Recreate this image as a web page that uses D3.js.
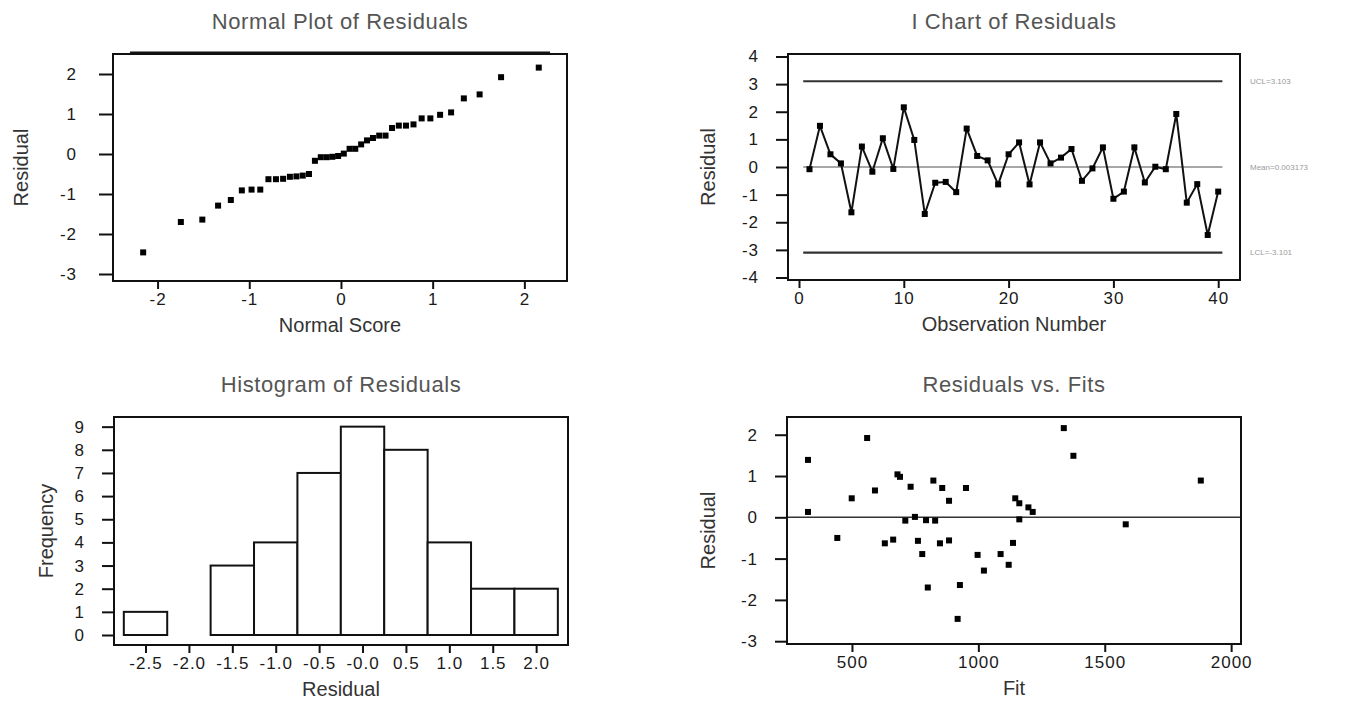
<!DOCTYPE html>
<html><head><meta charset="utf-8">
<script src="https://cdn.jsdelivr.net/npm/d3@7"></script>
<style>
body{margin:0;background:#fff;}
text{font-family:"Liberation Sans",Arial,sans-serif;}
</style></head><body>
<svg id="c" width="1359" height="702"></svg>
<script>
// ---- data ----
const observations = d3.range(1, 41);
const residuals = [-0.08, 1.49, 0.46, 0.13, -1.64, 0.74, -0.17, 1.04, -0.07, 2.16,
                   0.98, -1.70, -0.57, -0.54, -0.91, 1.39, 0.40, 0.24, -0.63, 0.46,
                   0.89, -0.63, 0.89, 0.13, 0.34, 0.65, -0.50, -0.05, 0.71, -1.15,
                   -0.89, 0.71, -0.56, 0.01, -0.08, 1.92, -1.29, -0.62, -2.46, -0.89];
const fits = [711, 1376, 499, 326, 927, 732, 1583, 680, 793, 1338,
              690, 800, 761, 663, 997, 326, 884, 1198, 630, 1146,
              822, 848, 1880, 1215, 1162, 591, 442, 1162, 857, 1120,
              1088, 951, 884, 749, 829, 560, 1022, 1137, 918, 778];
const normalScores = [-2.157, -1.746, -1.512, -1.340, -1.201, -1.081, -0.975, -0.880, -0.791, -0.709,
                      -0.631, -0.557, -0.486, -0.417, -0.349, -0.284, -0.220, -0.156, -0.094, -0.031,
                      0.031, 0.094, 0.156, 0.220, 0.284, 0.349, 0.417, 0.486, 0.557, 0.631,
                      0.709, 0.791, 0.880, 0.975, 1.081, 1.201, 1.340, 1.512, 1.746, 2.157];
const sortedResiduals = [-2.46, -1.70, -1.64, -1.29, -1.15, -0.91, -0.89, -0.89, -0.63, -0.63,
                         -0.62, -0.57, -0.56, -0.54, -0.50, -0.17, -0.08, -0.08, -0.07, -0.05,
                         0.01, 0.13, 0.13, 0.24, 0.34, 0.40, 0.46, 0.46, 0.65, 0.71,
                         0.71, 0.74, 0.89, 0.89, 0.98, 1.04, 1.39, 1.49, 1.92, 2.16];
const histMids = [-2.5, -2.0, -1.5, -1.0, -0.5, 0.0, 0.5, 1.0, 1.5, 2.0];
const histCounts = [1, 0, 3, 4, 7, 9, 8, 4, 2, 2];
const histTickLabels = ["-2.5", "-2.0", "-1.5", "-1.0", "-0.5", "-0.0", "0.5", "1.0", "1.5", "2.0"];
const histYTicks = [0, 1, 2, 3, 4, 5, 6, 7, 8, 9];
const normalXTicks = [-2, -1, 0, 1, 2];
const normalYTicks = [2, 1, 0, -1, -2, -3];
const ichartXTicks = [0, 10, 20, 30, 40];
const ichartYTicks = [4, 3, 2, 1, 0, -1, -2, -3, -4];
const fitXTicks = [500, 1000, 1500, 2000];
const fitYTicks = [2, 1, 0, -1, -2, -3];
const limitValues = [3.103, 0.003173, -3.101];
const limitLabels = ["UCL=3.103", "Mean=0.003173", "LCL=-3.101"];
const titles = ["Normal Plot of Residuals", "I Chart of Residuals", "Histogram of Residuals", "Residuals vs. Fits"];

// ---- drawing ----
const svg = d3.select("#c");
svg.append("rect").attr("width", 1359).attr("height", 702).attr("fill", "#fff");
const fmt = d => String(d);

function panel(cfg) {
  const x = d3.scaleLinear().domain(cfg.xDomain).range([cfg.left, cfg.right]);
  const y = d3.scaleLinear().domain(cfg.yDomain).range([cfg.bottom, cfg.top]);
  const g = svg.append("g");
  const ya = g.append("g").attr("transform", `translate(${cfg.left},0)`)
    .call(d3.axisLeft(y).tickValues(cfg.yTicks).tickFormat(cfg.yFormat || fmt)
      .tickSize(cfg.yTick || 12).tickPadding(cfg.yPad || 17).tickSizeOuter(0));
  const xa = g.append("g").attr("transform", `translate(0,${cfg.bottom})`)
    .call(d3.axisBottom(x).tickValues(cfg.xTicks).tickFormat(cfg.xFormat || fmt)
      .tickSize(8).tickPadding(4).tickSizeOuter(0));
  [ya, xa].forEach(a => {
    a.select(".domain").remove();
    a.selectAll(".tick line").attr("stroke", "#111").attr("stroke-width", 2);
    a.selectAll(".tick text").attr("font-size", 17).attr("fill", "#1a1a1a")
      .attr("letter-spacing", "1px").attr("font-family", "Liberation Sans, Arial, sans-serif");
  });
  g.append("text").attr("x", (cfg.left + cfg.right) / 2).attr("y", cfg.top - 25)
    .attr("text-anchor", "middle").attr("font-size", 22).attr("letter-spacing", "0.6px")
    .attr("fill", "#555").text(cfg.title);
  g.append("text").attr("x", (cfg.left + cfg.right) / 2).attr("y", cfg.bottom + 51)
    .attr("text-anchor", "middle").attr("font-size", 20).attr("fill", "#333").text(cfg.xLabel);
  g.append("text").attr("transform", `translate(${cfg.yLabelX},${(cfg.top + cfg.bottom) / 2}) rotate(-90)`)
    .attr("text-anchor", "middle").attr("dy", "0.35em").attr("font-size", 20).attr("fill", "#333").text(cfg.yLabel);
  const plot = g.append("g");
  g.append("rect").attr("x", cfg.left).attr("y", cfg.top)
    .attr("width", cfg.right - cfg.left).attr("height", cfg.bottom - cfg.top)
    .attr("fill", "none").attr("stroke", "#111").attr("stroke-width", 2);
  return {x, y, g: plot, top: g};
}

function squares(p, xs, ys, size) {
  p.g.selectAll(null).data(xs).join("rect")
    .attr("x", (d, i) => p.x(d) - size / 2).attr("y", (d, i) => p.y(ys[i]) - size / 2)
    .attr("width", size).attr("height", size).attr("fill", "#000");
}

// Panel 1: normal plot
const p1 = panel({left: 113, right: 567, top: 54, bottom: 281,
  xDomain: [-2.486, 2.465], yDomain: [-3.175, 2.5],
  xTicks: normalXTicks, yTicks: normalYTicks, yTick: 14, yPad: 22,
  title: titles[0], xLabel: "Normal Score", yLabel: "Residual", yLabelX: 21});
squares(p1, normalScores, sortedResiduals, 6);
p1.top.append("line").attr("x1", p1.x(-2.3)).attr("x2", p1.x(2.28))
  .attr("y1", 53).attr("y2", 53).attr("stroke", "#111").attr("stroke-width", 3);

// Panel 2: I chart
const p2 = panel({left: 788, right: 1240, top: 54, bottom: 280,
  xDomain: [-1.05, 42.08], yDomain: [-4.09, 4.09],
  xTicks: ichartXTicks, yTicks: ichartYTicks,
  title: titles[1], xLabel: "Observation Number", yLabel: "Residual", yLabelX: 708});
limitValues.forEach((v, i) => {
  p2.g.append("line").attr("x1", p2.x(0.4)).attr("x2", p2.x(40.4))
    .attr("y1", p2.y(v)).attr("y2", p2.y(v))
    .attr("stroke", i === 1 ? "#8a8a8a" : "#333").attr("stroke-width", i === 1 ? 1.5 : 2.2);
  p2.top.append("text").attr("x", 1250).attr("y", p2.y(v)).attr("dy", "0.35em")
    .attr("font-size", 8).attr("fill", "#9a9a9a").text(limitLabels[i]);
});
p2.g.append("path").datum(observations)
  .attr("d", d3.line().x(d => p2.x(d)).y((d, i) => p2.y(residuals[i])))
  .attr("fill", "none").attr("stroke", "#111").attr("stroke-width", 2);
squares(p2, observations, residuals, 6);

// Panel 3: histogram
const p3 = panel({left: 114, right: 568, top: 417, bottom: 645,
  xDomain: [-2.863, 2.367], yDomain: [-0.432, 9.417],
  xTicks: histMids, yTicks: histYTicks,
  xFormat: (d, i) => histTickLabels[i],
  title: titles[2], xLabel: "Residual", yLabel: "Frequency", yLabelX: 46});
p3.g.selectAll(null).data(histMids).join("rect")
  .attr("x", d => p3.x(d - 0.25)).attr("width", d => p3.x(d + 0.25) - p3.x(d - 0.25))
  .attr("y", (d, i) => p3.y(histCounts[i])).attr("height", (d, i) => p3.y(0) - p3.y(histCounts[i]))
  .attr("fill", "#fff").attr("stroke", "#111").attr("stroke-width", 2);

// Panel 4: residuals vs fits
const p4 = panel({left: 787, right: 1241, top: 417, bottom: 644,
  xDomain: [243, 2039], yDomain: [-3.068, 2.429],
  xTicks: fitXTicks, yTicks: fitYTicks,
  title: titles[3], xLabel: "Fit", yLabel: "Residual", yLabelX: 708});
p4.g.append("line").attr("x1", p4.x(243)).attr("x2", p4.x(2039))
  .attr("y1", p4.y(0)).attr("y2", p4.y(0)).attr("stroke", "#333").attr("stroke-width", 1.6);
squares(p4, fits, residuals, 6);
</script>
</body></html>
